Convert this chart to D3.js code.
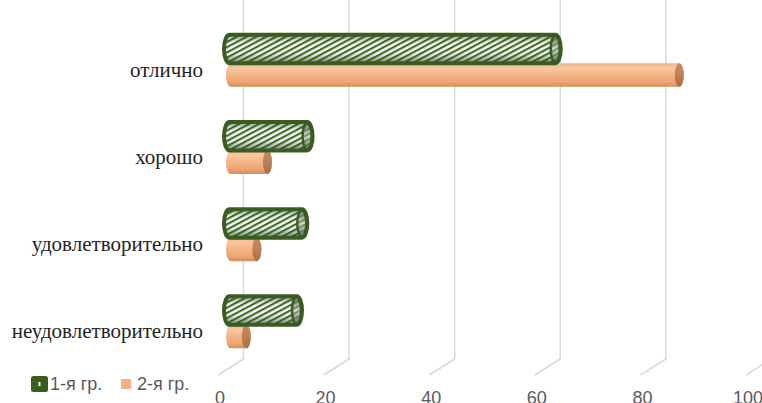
<!DOCTYPE html>
<html><head><meta charset="utf-8">
<script src="https://cdn.jsdelivr.net/npm/d3@7"></script>
<style>html,body{margin:0;padding:0;background:#fff;overflow:hidden}</style>
</head><body>
<svg id="c" width="762" height="403"></svg>
<script>
const categories = ["отлично", "хорошо", "удовлетворительно", "неудовлетворительно"];
const group1 = [61.5, 14.5, 13.5, 12.5];
const group2 = [85, 7, 5, 3];
const seriesNames = ["1-я гр.", "2-я гр."];
const xTicks = [0, 20, 40, 60, 80, 100];

const svg = d3.select("#c");
const defs = svg.append("defs");

const xBack = d3.scaleLinear().domain([0, 100]).range([243.5, 771.5]);
const xFront = d3.scaleLinear().domain([0, 100]).range([218, 746]);
const xMid = d3.scaleLinear().domain([0, 100]).range([230.5, 758.5]);
const y = d3.scaleBand().domain(categories).range([18.4, 367.2]);
const ySer = d3.scaleBand().domain([0, 1]).range([-26, 26]);

function grad(id, stops) {
  const g = defs.append("linearGradient").attr("id", id)
    .attr("x1", 0).attr("y1", 0).attr("x2", 0).attr("y2", 1);
  stops.forEach(s => g.append("stop").attr("offset", s[0]).attr("stop-color", s[1]).attr("stop-opacity", s[2] == null ? 1 : s[2]));
}
grad("orBody", [[0, "#f2b386"], [0.2, "#f9c8a2"], [0.5, "#f5b385"], [0.8, "#eca574"], [1, "#d08d5c"]]);
grad("orCap", [[0, "#c48a63"], [0.5, "#bd7f57"], [1, "#a86e48"]]);
grad("grBase", [[0, "#b5b5b5"], [0.3, "#ffffff"], [0.65, "#f7f7f7"], [1, "#a0a0a0"]]);
grad("grShade", [[0, "#000", 0.12], [0.3, "#000", 0], [0.7, "#000", 0], [1, "#000", 0.18]]);
grad("grCapBase", [[0, "#7a7a7a"], [0.5, "#d8d8d8"], [1, "#707070"]]);

const pat = defs.append("pattern").attr("id", "stripes")
  .attr("patternUnits", "userSpaceOnUse").attr("width", 4.6).attr("height", 10)
  .attr("patternTransform", "rotate(62)");
pat.append("rect").attr("x", 0).attr("y", 0).attr("width", 2.1).attr("height", 10).attr("fill", "#3c6b22");

// gridlines with floor perspective
svg.append("g").selectAll("path").data(xTicks).join("path")
  .attr("d", t => `M${xBack(t)},0V359L${xFront(t)},375`)
  .attr("fill", "none").attr("stroke", "#d9d9d9").attr("stroke-width", 1.5);

// tick labels
svg.append("g").selectAll("text").data(xTicks).join("text")
  .attr("x", t => xFront(t) + 2).attr("y", 404)
  .attr("text-anchor", "middle").attr("font-family", "Liberation Sans, Arial, sans-serif")
  .attr("font-size", 18).attr("fill", "#595959").text(t => t);

// category labels
svg.append("g").selectAll("text").data(categories).join("text")
  .attr("x", 203).attr("y", c => y(c) + y.bandwidth() / 2 + 14.6)
  .attr("text-anchor", "end").attr("font-family", "Liberation Serif, Times New Roman, serif")
  .attr("font-size", 21).attr("fill", "#1f1f1f").text(c => c);

function bodyPath(x0, x1, cy, r, rx) {
  return `M${x0},${cy - r}L${x1},${cy - r}A${rx},${r} 0 0 1 ${x1},${cy + r}L${x0},${cy + r}A${rx},${r} 0 0 1 ${x0},${cy - r}Z`;
}

// series 2 (orange) drawn first
const rO = 11.75, rxO = 4.5;
const gO = svg.append("g");
categories.forEach((c, i) => {
  const cy = y(c) + y.bandwidth() / 2 + ySer(1) + ySer.bandwidth() / 2;
  const x0 = xMid(0), x1 = xMid(group2[i]);
  gO.append("path").attr("d", bodyPath(x0, x1, cy, rO, rxO)).attr("fill", "url(#orBody)");
  gO.append("ellipse").attr("cx", x1).attr("cy", cy).attr("rx", rxO).attr("ry", rO).attr("fill", "url(#orCap)");
});

// series 1 (green hatched)
const rG = 14.25, rxG = 5.5;
const gG = svg.append("g");
categories.forEach((c, i) => {
  const cy = y(c) + y.bandwidth() / 2 + ySer(0) + ySer.bandwidth() / 2;
  const x0 = xMid(0) - 1, x1 = xMid(group1[i]);
  const d = bodyPath(x0, x1, cy, rG, rxG);
  gG.append("path").attr("d", d).attr("fill", "url(#grBase)");
  gG.append("path").attr("d", d).attr("fill", "url(#stripes)");
  gG.append("path").attr("d", d).attr("fill", "url(#grShade)");
  gG.append("path").attr("d", d).attr("fill", "none").attr("stroke", "#395c21").attr("stroke-width", 4).attr("stroke-linejoin", "round");
  gG.append("ellipse").attr("cx", x1).attr("cy", cy).attr("rx", rxG - 1).attr("ry", rG - 1).attr("fill", "url(#grCapBase)");
  gG.append("ellipse").attr("cx", x1).attr("cy", cy).attr("rx", rxG - 1).attr("ry", rG - 1).attr("fill", "url(#stripes)").attr("opacity", 0.6);
  gG.append("ellipse").attr("cx", x1).attr("cy", cy).attr("rx", rxG - 1).attr("ry", rG - 1).attr("fill", "none").attr("stroke", "#395c21").attr("stroke-width", 2.5);
});

// legend
const lg = svg.append("g");
lg.append("rect").attr("x", 31).attr("y", 376).attr("width", 17).attr("height", 16).attr("rx", 2.5).attr("fill", "#395c21");
lg.append("rect").attr("x", 38.5).attr("y", 382).attr("width", 2).attr("height", 4).attr("fill", "#fff");
lg.append("text").attr("x", 50).attr("y", 390).attr("font-family", "Liberation Sans, Arial, sans-serif")
  .attr("font-size", 18).attr("fill", "#595959").text(seriesNames[0]);
lg.append("rect").attr("x", 121).attr("y", 379).attr("width", 10).attr("height", 10).attr("fill", "#f4b183");
lg.append("text").attr("x", 137).attr("y", 390).attr("font-family", "Liberation Sans, Arial, sans-serif")
  .attr("font-size", 18).attr("fill", "#595959").text(seriesNames[1]);
</script>
</body></html>
